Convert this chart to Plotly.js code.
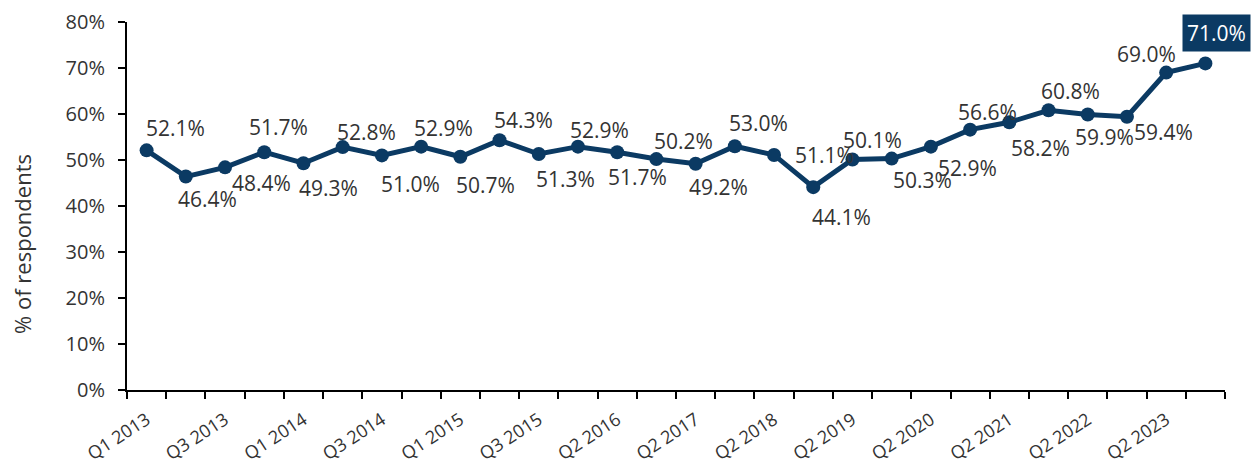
<!DOCTYPE html>
<html>
<head>
<meta charset="utf-8">
<script src="https://cdn.plot.ly/plotly-3.0.1.min.js"></script>
<style>html,body{margin:0;padding:0;background:#fff;}#chart{width:1258px;height:470px;}</style>
</head>
<body>
<div id="chart"></div>
<script>
// Quarter categories (every other one is labelled on the axis)
const quarters = [
  "Q1 2013","Q2 2013","Q3 2013","Q4 2013",
  "Q1 2014","Q2 2014","Q3 2014","Q4 2014",
  "Q1 2015","Q2 2015","Q3 2015","Q4 2015",
  "Q2 2016","Q4 2016","Q2 2017","Q4 2017",
  "Q2 2018","Q4 2018","Q2 2019","Q4 2019",
  "Q2 2020","Q4 2020","Q2 2021","Q4 2021",
  "Q2 2022","Q4 2022","Q2 2023","Q4 2023"
];
// % of respondents
const values = [
  52.1, 46.4, 48.4, 51.7, 49.3, 52.8, 51.0, 52.9,
  50.7, 54.3, 51.3, 52.9, 51.7, 50.2, 49.2, 53.0,
  51.1, 44.1, 50.1, 50.3, 52.9, 56.6, 58.2, 60.8,
  59.9, 59.4, 69.0, 71.0
];
const yTicks = [0,10,20,30,40,50,60,70,80];
const yTitle = "% of respondents";

// label placement (pixel offsets from each point, style only)
const labelDx = [29,22,36,14,25,24,29,22,25,24,27,22,20,27,23,24,50,28,20,31,37,17,31,22,17,37,-20,11];
const labelDy = [-22,22,16,-25,25,-15,29,-19,28,-20,25,-17,25,-18,23,-23,0,30,-20,21,21,-18,26,-19,23,15,-19,-30];

const FONT = "'Open Sans', 'Noto Sans', sans-serif";
const TXT = "#333333";
const NAVY = "#0b3a63";

const idx = quarters.map((q, i) => i);
const labelIdx = idx.filter(i => i % 2 === 0);
const labelText = labelIdx.map(i => quarters[i]);
const boundaries = quarters.map((q, i) => i - 0.5).concat([quarters.length - 0.5]);

const trace = {
  x: idx, y: values, type: "scatter", mode: "lines+markers",
  line: {color: NAVY, width: 5},
  marker: {color: NAVY, size: 14},
  text: quarters, hoverinfo: "text+y",
  xaxis: "x", yaxis: "y"
};
const dummy = {
  x: idx, y: values, type: "scatter", mode: "none",
  xaxis: "x2", yaxis: "y", hoverinfo: "skip", showlegend: false
};

const last = values.length - 1;
const annotations = values.map((v, i) => {
  const a = {
    x: i, y: v, xref: "x", yref: "y",
    text: v.toFixed(1) + "%", showarrow: false,
    xanchor: "center", yanchor: "middle",
    xshift: labelDx[i], yshift: -labelDy[i],
    font: {family: FONT, size: 21, color: TXT}
  };
  if (i === last) {
    a.bgcolor = NAVY; a.borderpad = 4;
    a.font = {family: FONT, size: 21, color: "#ffffff"};
  }
  return a;
});
// y-axis title (placed like the reference, a bit below the plot's middle)
annotations.push({
  text: yTitle, textangle: -90, showarrow: false,
  xref: "paper", yref: "paper", x: 0, y: 0.397,
  xanchor: "center", yanchor: "middle", xshift: -105,
  font: {family: FONT, size: 22, color: TXT}
});

const layout = {
  width: 1258, height: 470,
  margin: {l: 127, r: 33, t: 22, b: 80},
  paper_bgcolor: "#fff", plot_bgcolor: "#fff",
  showlegend: false,
  font: {family: FONT, size: 20, color: TXT},
  xaxis: {
    range: [-0.5, quarters.length - 0.5],
    tickmode: "array", tickvals: boundaries, ticktext: boundaries.map(() => ""),
    ticks: "outside", ticklen: 7, tickwidth: 2, tickcolor: "#000",
    showline: true, linecolor: "#000", linewidth: 2,
    showgrid: false, zeroline: false, fixedrange: true
  },
  xaxis2: {
    overlaying: "x", matches: "x", side: "bottom",
    tickmode: "array", tickvals: labelIdx, ticktext: labelText,
    ticks: "", tickangle: -33, ticklabelstandoff: 15,
    showline: false, showgrid: false, zeroline: false,
    tickfont: {family: FONT, size: 18, color: TXT}
  },
  yaxis: {
    range: [0, 80], tickmode: "array", tickvals: yTicks,
    ticktext: yTicks.map(t => t + "%"),
    ticks: "outside", ticklen: 7, tickwidth: 2, tickcolor: "#000",
    ticklabelstandoff: 9,
    showline: true, linecolor: "#000", linewidth: 2,
    showgrid: false, zeroline: false,
    tickfont: {family: FONT, size: 20, color: TXT}
  },
  annotations: annotations
};

Plotly.newPlot("chart", [trace, dummy], layout, {displayModeBar: false, staticPlot: true});
</script>
</body>
</html>
